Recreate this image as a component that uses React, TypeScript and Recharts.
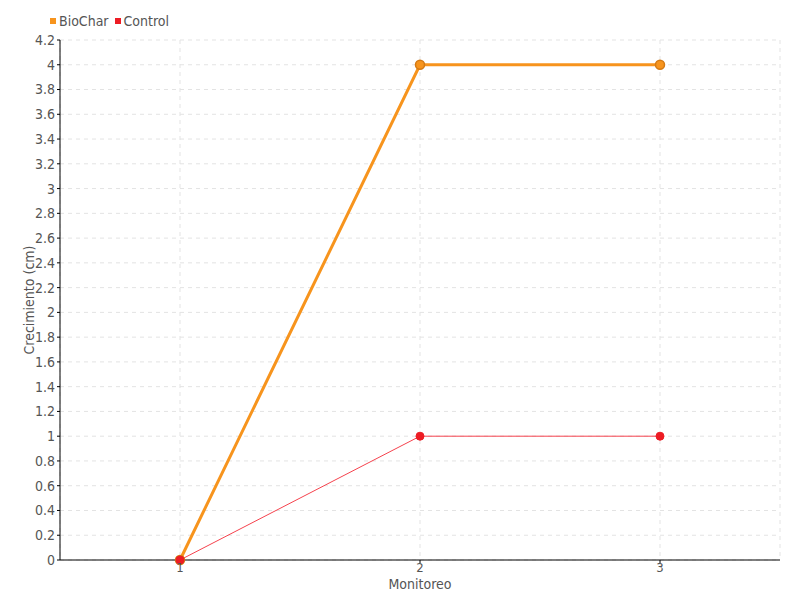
import { LineChart, Line, XAxis, YAxis, CartesianGrid } from "recharts";

const monitoreo = ["1", "2", "3"];
const biochar = [0, 4, 4];
const control = [0, 1, 1];
const yTicks = [0, 0.2, 0.4, 0.6, 0.8, 1, 1.2, 1.4, 1.6, 1.8, 2, 2.2, 2.4, 2.6, 2.8, 3, 3.2, 3.4, 3.6, 3.8, 4, 4.2];

const data = monitoreo.map((m, i) => ({ name: m, BioChar: biochar[i], Control: control[i] }));

const font = "'DejaVu Sans', sans-serif";
const textStyle = { fontStretch: "condensed" as const };

function ChartLegend() {
  const items = [
    { label: "BioChar", color: "#f7941d" },
    { label: "Control", color: "#ed1c24" },
  ];
  return (
    <div
      style={{
        position: "absolute",
        left: 50,
        top: 13,
        display: "flex",
        gap: 6,
        fontFamily: font,
        fontStretch: "condensed",
        fontSize: 14,
        color: "#555",
      }}
    >
      {items.map((it) => (
        <span key={it.label} style={{ display: "flex", alignItems: "center" }}>
          <span style={{ width: 6, height: 6, background: it.color, marginRight: 3 }} />
          {it.label}
        </span>
      ))}
    </div>
  );
}

export default function App() {
  return (
    <div style={{ position: "absolute", left: 0, top: 0, width: 800, height: 600, background: "#fff" }}>
      <ChartLegend />
      <LineChart width={800} height={600} data={data} margin={{ top: 40, right: 20, bottom: 10, left: 10 }}>
        <CartesianGrid stroke="#e3e3e3" strokeDasharray="4 4" />
        <XAxis
          dataKey="name"
          padding={{ left: 120, right: 120 }}
          height={30}
          tickSize={3}
          tickMargin={0}
          stroke="#000"
          tick={{ fill: "#555", fontSize: 13, fontFamily: font, style: textStyle }}
          label={{ value: "Monitoreo", position: "insideBottom", offset: 1, fill: "#555", fontSize: 14, fontFamily: font, style: textStyle }}
        />
        <YAxis
          domain={[0, 4.2]}
          ticks={yTicks}
          interval={0}
          width={50}
          tickSize={3}
          stroke="#000"
          tick={{ fill: "#555", fontSize: 14, fontFamily: font, style: textStyle }}
          label={{ value: "Crecimiento (cm)", angle: -90, position: "insideLeft", offset: 19, fill: "#555", fontSize: 14, fontFamily: font, style: { textAnchor: "middle", fontStretch: "condensed" } }}
        />
        <Line
          dataKey="BioChar"
          stroke="#f7941d"
          strokeWidth={3}
          dot={{ r: 4.5, fill: "#f7941d", stroke: "#d47a14", strokeWidth: 1.5 }}
          isAnimationActive={false}
        />
        <Line
          dataKey="Control"
          stroke="#f5424d"
          strokeWidth={1}
          dot={{ r: 4, fill: "#ed1c24", stroke: "#ed1c24", strokeWidth: 1 }}
          isAnimationActive={false}
        />
      </LineChart>
    </div>
  );
}
